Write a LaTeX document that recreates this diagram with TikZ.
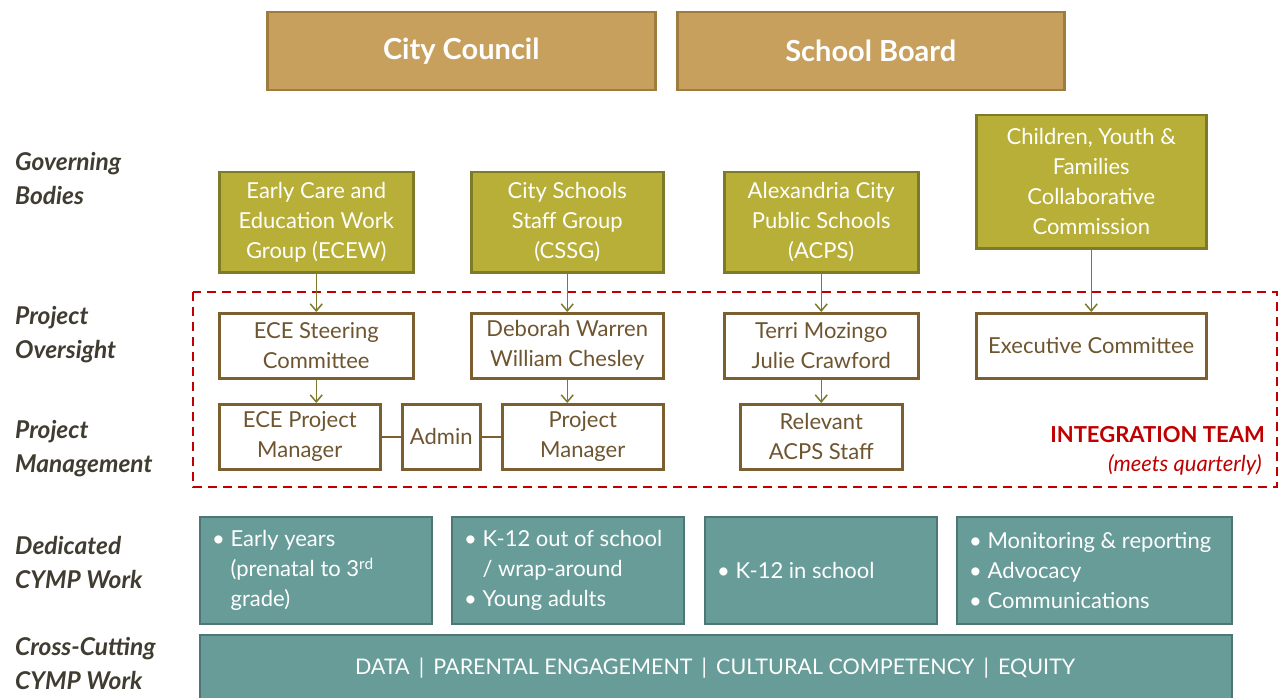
\documentclass[tikz,border=0pt]{standalone}
\usepackage{fontspec}
\setmainfont{Lato}
\usetikzlibrary{arrows.meta,calc}
\definecolor{tanfill}{HTML}{C8A05E}
\definecolor{tandraw}{HTML}{9E7B3F}
\definecolor{olivefill}{HTML}{B7AF38}
\definecolor{olivedraw}{HTML}{7D7A2A}
\definecolor{browndraw}{HTML}{7B5F30}
\definecolor{browntext}{HTML}{6E5530}
\definecolor{tealfill}{HTML}{679C98}
\definecolor{tealdraw}{HTML}{4D7674}
\definecolor{teamred}{HTML}{C00000}
\definecolor{labeltext}{HTML}{403C31}
\begin{document}
\begin{tikzpicture}[x=1pt,y=-1pt,
  basebox/.style={inner sep=0pt, anchor=north west, align=center, line width=2.5pt},
  tanbox/.style={basebox, draw=tandraw, fill=tanfill, text=white, font=\fontsize{29}{32}\selectfont\bfseries},
  olivebox/.style={basebox, draw=olivedraw, fill=olivefill, text=white, font=\fontsize{22}{30}\selectfont},
  brownbox/.style={basebox, draw=browndraw, fill=white, text=browntext, font=\fontsize{22}{30}\selectfont},
  tealbox/.style={basebox, draw=tealdraw, fill=tealfill, line width=2pt},
  tealtext/.style={inner sep=0pt, anchor=west, align=left, text=white, font=\fontsize{22}{30}\selectfont},
  sidelabel/.style={inner sep=0pt, anchor=west, align=left, text=labeltext, font=\fontsize{24.5}{34}\selectfont\bfseries\itshape},
  arr/.style={draw=olivedraw, line width=1.5pt, -{Straight Barb[length=7pt,width=12pt,line width=1.5pt]}},
  link/.style={draw=browndraw, line width=2pt}
]
\useasboundingbox (0,0) rectangle (1278,698);
\fill[white] (0,0) rectangle (1278,698);

% top bodies
\node[tanbox, minimum width=388, minimum height=78] (cc) at (266,11) {City Council};
\node[tanbox, minimum width=387, minimum height=78] (sb) at (676,11) {School Board};

% governing bodies
\node[olivebox, minimum width=194, minimum height=100] (ecew) at (218,171) {Early Care and\\Education Work\\Group (ECEW)};
\node[olivebox, minimum width=192, minimum height=100] (cssg) at (470,171) {City Schools\\Staff Group\\(CSSG)};
\node[olivebox, minimum width=194, minimum height=100] (acps) at (723,171) {Alexandria City\\Public Schools\\(ACPS)};
\node[olivebox, minimum width=230, minimum height=133] (cyf) at (975,114) {Children, Youth \&\\Families\\Collaborative\\Commission};

% integration team frame
\draw[teamred, line width=2pt, dash pattern=on 9pt off 6pt] (193,292) rectangle (1277,487);
\node[inner sep=0pt, anchor=east, text=teamred, font=\fontsize{22}{24}\selectfont\bfseries] (it) at (1265,435) {INTEGRATION TEAM};
\node[inner sep=0pt, anchor=east, text=teamred, font=\fontsize{22}{24}\selectfont\itshape] (mq) at (1262,465) {(meets quarterly)};

% oversight
\node[brownbox, minimum width=194, minimum height=65] (ece) at (218,312) {ECE Steering\\Committee};
\node[brownbox, minimum width=192, minimum height=65] (deb) at (470,312) {Deborah Warren\\William Chesley};
\node[brownbox, minimum width=194, minimum height=65] (terri) at (723,312) {Terri Mozingo\\Julie Crawford};
\node[brownbox, minimum width=230, minimum height=65] (exec) at (975,312) {Executive Committee};

% management
\node[brownbox, minimum width=161, minimum height=65] (ecepm) at (218,403) {ECE Project\\Manager};
\node[brownbox, minimum width=78, minimum height=65] (admin) at (401,403) {Admin};
\node[brownbox, minimum width=161, minimum height=65] (pm) at (501,403) {Project\\Manager};
\node[brownbox, minimum width=162, minimum height=65] (rel) at (739,403) {Relevant\\ACPS Staff};

% connectors
\draw[arr] (ecew.south) -- (ece.north);
\draw[arr] (cssg.south) -- (deb.north);
\draw[arr] (acps.south) -- (terri.north);
\draw[arr] (cyf.south) -- (exec.north);
\draw[arr] (ece.south) -- (ece.south |- ecepm.north);
\draw[arr] (deb.south) -- (deb.south |- pm.north);
\draw[arr] (terri.south) -- (rel.north);
\draw[link] (ecepm.east) -- (admin.west);
\draw[link] (admin.east) -- (pm.west);

% dedicated work
\node[tealbox, minimum width=232, minimum height=107] (d1) at (199,516) {};
\node[tealbox, minimum width=232, minimum height=107] (d2) at (451,516) {};
\node[tealbox, minimum width=232, minimum height=107] (d3) at (704,516) {};
\node[tealbox, minimum width=275, minimum height=107] (d4) at (956,516) {};
\node[tealtext] (t1) at ($(d1.west)+(13,0)$) {\textbullet\ Early years\\\hphantom{\textbullet\ }(prenatal to 3\textsuperscript{rd}\\\hphantom{\textbullet\ }grade)};
\node[tealtext] (t2) at ($(d2.west)+(13,0)$) {\textbullet\ K-12 out of school\\\hphantom{\textbullet\ }/ wrap-around\\\textbullet\ Young adults};
\node[tealtext] (t3) at ($(d3.west)+(13,0)$) {\textbullet\ K-12 in school};
\node[tealtext] (t4) at ($(d4.west)+(13,0)$) {\textbullet\ Monitoring \& reporting\\\textbullet\ Advocacy\\\textbullet\ Communications};

% cross-cutting
\node[tealbox, minimum width=1032, minimum height=80] (cross) at (199,634) {};
\node[inner sep=0pt, text=white, font=\fontsize{21.5}{30}\selectfont] (crosst) at (715,668) {DATA \,|\, PARENTAL ENGAGEMENT \,|\, CULTURAL COMPETENCY \,|\, EQUITY};

% side labels
\node[sidelabel] (l1) at (15,179) {Governing\\Bodies};
\node[sidelabel] (l2) at (15,335) {Project\\Oversight};
\node[sidelabel] (l3) at (15,449) {Project\\Management};
\node[sidelabel] (l4) at (15,562) {Dedicated\\CYMP Work};
\node[sidelabel] (l5) at (15,664) {Cross-Cutting\\CYMP Work};
\end{tikzpicture}
\end{document}
